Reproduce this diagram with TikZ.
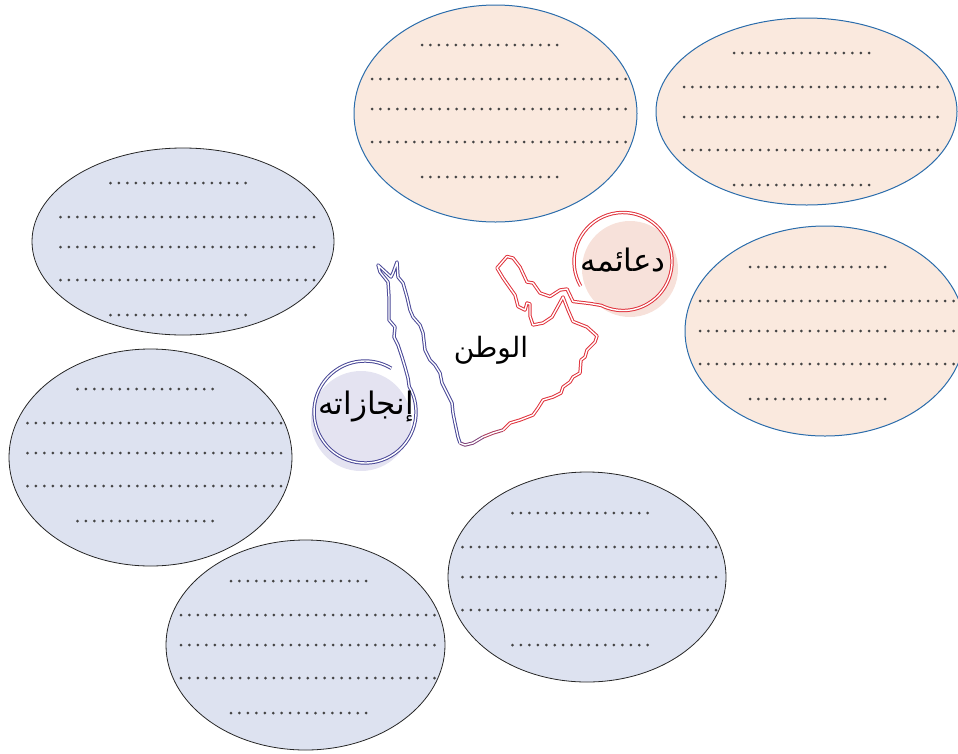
\documentclass[tikz,border=0pt]{standalone}
\usepackage{fontspec}
\newfontfamily\arabicfont[Script=Arabic]{DejaVu Sans}
\TeXXeTstate=1
\usetikzlibrary{shapes.geometric}

\definecolor{peachfill}{HTML}{FAE9DE}
\definecolor{blueline}{HTML}{2A6CAB}
\definecolor{greyfill}{HTML}{DDE2F0}
\definecolor{dotgrey}{HTML}{444444}
\definecolor{redline}{HTML}{E0323C}
\definecolor{purpleline}{HTML}{4A4897}
\definecolor{pinkfill}{HTML}{F7E1DA}
\definecolor{lilacfill}{HTML}{E4E3F1}

\tikzset{
  peachbox/.style={ellipse, draw=blueline, fill=peachfill, line width=1pt, inner sep=0pt},
  greybox/.style={ellipse, draw=black!85, fill=greyfill, line width=0.8pt, inner sep=0pt},
  dotrow/.style={draw=dotgrey, line width=3pt, line cap=round, dash pattern=on 0pt off 8.45pt},
  coast/.style={double=white, double distance=1.4pt, line width=1pt, line join=round},
  disc/.style={circle, inner sep=0pt},
  word/.style={font=\arabicfont\fontsize{31}{36}\selectfont, inner sep=0pt},
}

\newcommand{\dotrows}[2]{%
  \foreach \dy in {-30,0,33}
    \draw[dotrow] (#1-127.5,#2+\dy) -- ++(255,0);
  \foreach \dy in {-64,68}
    \draw[dotrow] (#1-77.5,#2+\dy) -- ++(138,0);
}

\begin{document}
\begin{tikzpicture}[x=1pt, y=-1pt]
  \useasboundingbox (0,0) rectangle (958,753);

  \node[peachbox, minimum width=283pt, minimum height=217pt] (topA) at (495.5,113.5) {};
  \node[peachbox, minimum width=301pt, minimum height=187pt] (topB) at (806.5,111.5) {};
  \node[peachbox, minimum width=280pt, minimum height=210pt] (rightA) at (825,331) {};
  \node[greybox, minimum width=302pt, minimum height=187pt] (leftA) at (183,241.5) {};
  \node[greybox, minimum width=283pt, minimum height=217pt] (leftB) at (150.5,457.5) {};
  \node[greybox, minimum width=279pt, minimum height=210pt] (bottomA) at (305.5,645) {};
  \node[greybox, minimum width=278pt, minimum height=210pt] (bottomB) at (587,577) {};

  \dotrows{499.5}{109}
  \dotrows{811.5}{117}
  \dotrows{827.5}{331}
  \dotrows{188}{247}
  \dotrows{155}{453}
  \dotrows{308.5}{645}
  \dotrows{590}{577}

  \node[disc, fill=pinkfill, minimum size=96pt] (pillars) at (630,269) {};
  \node[disc, fill=lilacfill, minimum size=100pt] (deeds) at (361,421) {};

  \draw[coast, draw=redline] (580.6,286) arc[start angle=-210, end angle=116.3, radius=49]
    -- (590,303.5) -- (573,301.5) -- (567,289) -- (560,290) -- (550,296.5) -- (540,293)
    -- (533,283) -- (527,282) -- (520,267) -- (513,258) -- (507,256.5) -- (497,268)
    -- (503,278) -- (510,288) -- (515,295) -- (518,306.5) -- (525,310) -- (527,303)
    -- (530,304) -- (530,316) -- (533,325) -- (543,323) -- (552,317) -- (557,308)
    -- (563,297) -- (568,310) -- (573,321.5) -- (587,327) -- (597,336) -- (595,342)
    -- (587,350) -- (585,357) -- (581,360) -- (580,373) -- (573,377) -- (570,382)
    -- (563,387) -- (561,393) -- (553,397) -- (543,400) -- (538,408) -- (533,415)
    -- (520,420) -- (510,423) -- (503,430);
  \draw[coast, draw=redline!65!purpleline] (503,430) -- (493,433) -- (483,437);
  \draw[coast, draw=redline!35!purpleline] (483,437) -- (473,443) -- (465,445) -- (460,443);
  \draw[coast, draw=purpleline] (460,443) -- (458,437) -- (455,423) -- (453,413)
    -- (452,403) -- (447,393) -- (442,383) -- (440,373) -- (435,365) -- (430,360)
    -- (425,350) -- (423,333) -- (420,325) -- (413,317) -- (410,310) -- (407,297)
    -- (403,283) -- (398,277) -- (397,262) -- (393,273) -- (391,277) -- (378,265)
    -- (380,272) -- (388,282) -- (389,297) -- (389,320) -- (395,327) -- (394,337)
    -- (398,345) -- (402,357) -- (405,367) -- (408,378)
    -- (409.2,386.5) arc[start angle=-30, end angle=301, radius=51];

  \node[word, font=\arabicfont\fontsize{28}{33}\selectfont] (homeland) at (491,350) {\beginR الوطن\endR};
  \node[word] (pillarsword) at (623,260) {\beginR دعائمه\endR};
  \node[word] (deedsword) at (366,406) {\beginR إنجازاته\endR};
\end{tikzpicture}
\end{document}
